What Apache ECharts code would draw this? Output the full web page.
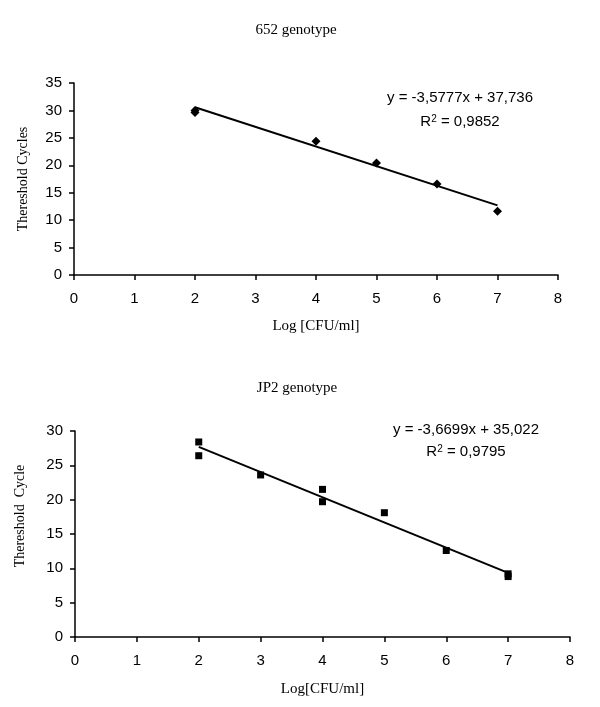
<!DOCTYPE html>
<html>
<head>
<meta charset="utf-8">
<script src="https://cdn.jsdelivr.net/npm/echarts@6/dist/echarts.min.js"></script>
<style>html,body{margin:0;padding:0;background:#fff;}#chart{width:600px;height:707px;}</style>
</head>
<body>
<div id="chart"></div>
<script>
// Data
var titles = ['652 genotype', 'JP2 genotype'];
var xNames = ['Log [CFU/ml]', 'Log[CFU/ml]'];
var yNames = ['Thereshold Cycles', 'Thereshold  Cycle'];
var xTicks = [0, 1, 2, 3, 4, 5, 6, 7, 8];

var x652 = [2, 2, 4, 5, 6, 7];
var y652 = [30.0, 29.6, 24.4, 20.4, 16.6, 11.6];
var slope652 = -3.5777, intercept652 = 37.736;
var eq652 = 'y = -3,5777x + 37,736';
var r2652 = '0,9852';

var xJP2 = [2, 2, 3, 4, 4, 5, 6, 7, 7];
var yJP2 = [28.4, 26.4, 23.6, 21.5, 19.7, 18.1, 12.6, 9.2, 8.8];
var slopeJP2 = -3.6699, interceptJP2 = 35.022;
var eqJP2 = 'y = -3,6699x + 35,022';
var r2JP2 = '0,9795';
var fitRange = [2, 7];

function pairs(xs, ys) { return xs.map(function (x, i) { return [x, ys[i]]; }); }
function fit(a, b) { return fitRange.map(function (x) { return [x, a * x + b]; }); }

var serif = '"Liberation Serif", "Times New Roman", serif';
var sans = '"Liberation Sans", Arial, sans-serif';

function xAxis(i, name, gap, margin) {
  return {
    type: 'value', gridIndex: i, min: 0, max: 8, interval: 1,
    name: name, nameLocation: 'middle', nameGap: gap,
    nameTextStyle: { fontFamily: serif, fontSize: 15, color: '#000' },
    axisLine: { show: true, lineStyle: { color: '#000', width: 1.5 } },
    axisTick: { show: true, length: 5, lineStyle: { color: '#000', width: 1.5 } },
    axisLabel: { fontFamily: sans, fontSize: 15, color: '#000', margin: margin,
      formatter: function (v) { return xTicks.indexOf(v) >= 0 ? String(v) : ''; } },
    splitLine: { show: false }
  };
}
function yAxis(i, name, max, gap, pad, fs) {
  return {
    type: 'value', gridIndex: i, min: 0, max: max, interval: 5,
    name: name, nameLocation: 'middle', nameGap: gap,
    nameTextStyle: { fontFamily: serif, fontSize: fs, color: '#000', padding: pad },
    axisLine: { show: true, lineStyle: { color: '#000', width: 1.5 } },
    axisTick: { show: true, length: 5, lineStyle: { color: '#000', width: 1.5 } },
    axisLabel: { fontFamily: sans, fontSize: 15, color: '#000', margin: 12 },
    splitLine: { show: false }
  };
}

var chart = echarts.init(document.getElementById('chart'), null, { renderer: 'canvas' });
chart.setOption({
  backgroundColor: '#fff',
  animation: false,
  title: [
    { text: titles[0], left: 291, top: 18, textAlign: 'center',
      textStyle: { fontFamily: serif, fontSize: 15, fontWeight: 'normal', color: '#000' } },
    { text: titles[1], left: 292, top: 376, textAlign: 'center',
      textStyle: { fontFamily: serif, fontSize: 15, fontWeight: 'normal', color: '#000' } }
  ],
  grid: [
    { left: 74, top: 83, width: 484, height: 192 },
    { left: 75, top: 431, width: 495, height: 206 }
  ],
  xAxis: [xAxis(0, xNames[0], 44, 16), xAxis(1, xNames[1], 45, 16)],
  yAxis: [yAxis(0, yNames[0], 35, 44, [0, 0, 0, 0], 14), yAxis(1, yNames[1], 30, 48, [0, 0, 0, 36], 14)],
  series: [
    { type: 'line', xAxisIndex: 0, yAxisIndex: 0, data: fit(slope652, intercept652), showSymbol: false,
      lineStyle: { color: '#000', width: 2 }, silent: true },
    { type: 'scatter', xAxisIndex: 0, yAxisIndex: 0, data: pairs(x652, y652), symbol: 'diamond',
      symbolSize: 9, itemStyle: { color: '#000', opacity: 1 } },
    { type: 'line', xAxisIndex: 1, yAxisIndex: 1, data: fit(slopeJP2, interceptJP2), showSymbol: false,
      lineStyle: { color: '#000', width: 2 }, silent: true },
    { type: 'scatter', xAxisIndex: 1, yAxisIndex: 1, data: pairs(xJP2, yJP2), symbol: 'rect',
      symbolSize: 7, itemStyle: { color: '#000', opacity: 1 } }
  ],
  graphic: [
    { type: 'text', x: 460, y: 98, style: { text: eq652, font: '15px ' + sans, fill: '#000', align: 'center', verticalAlign: 'middle' } },
    { type: 'text', x: 460, y: 122, style: { text: 'R{s|2} = ' + r2652, font: '15px ' + sans, fill: '#000', align: 'center', verticalAlign: 'middle',
      rich: { s: { fontSize: 10, fontFamily: sans, verticalAlign: 'top', padding: [0, 0, 6, 0] } } } },
    { type: 'text', x: 466, y: 430, style: { text: eqJP2, font: '15px ' + sans, fill: '#000', align: 'center', verticalAlign: 'middle' } },
    { type: 'text', x: 466, y: 452, style: { text: 'R{s|2} = ' + r2JP2, font: '15px ' + sans, fill: '#000', align: 'center', verticalAlign: 'middle',
      rich: { s: { fontSize: 10, fontFamily: sans, verticalAlign: 'top', padding: [0, 0, 6, 0] } } } }
  ]
});
</script>
</body>
</html>
